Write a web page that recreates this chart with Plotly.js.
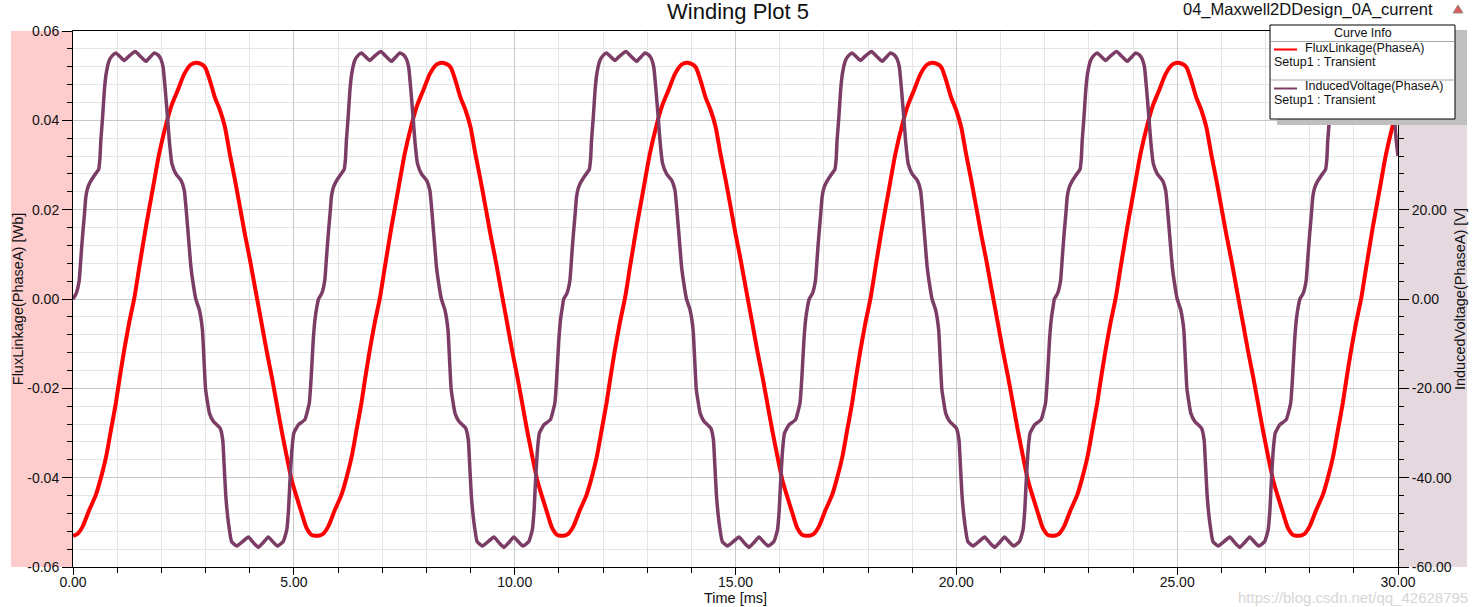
<!DOCTYPE html>
<html>
<head>
<meta charset="utf-8">
<script src="https://cdn.plot.ly/plotly-3.0.1.min.js"></script>
<style>
html,body{margin:0;padding:0;background:#ffffff;}
#chart{width:1479px;height:607px;}
</style>
</head>
<body>
<div id="chart"></div>
<script>
// ---- Data ----
const fluxTime = [
0.00,0.10,0.22,0.37,0.52,0.63,0.75,0.86,0.97,1.05,1.16,1.27,1.39,1.50,1.65,1.80,1.95,2.11,2.23,2.37,2.52,2.67,2.78,2.88,2.99,3.10,3.21,3.33,3.44,3.55,3.67,3.78,3.89,4.01,4.12,4.27,4.38,4.50,4.61,4.72,4.84,4.95,5.06,5.18,5.29,5.40,5.48,
5.56,5.66,5.78,5.93,6.08,6.19,6.31,6.42,6.53,6.61,6.72,6.83,6.95,7.06,7.21,7.36,7.51,7.67,7.79,7.93,8.08,8.23,8.34,8.44,8.55,8.66,8.77,8.89,9.00,9.11,9.23,9.34,9.45,9.57,9.68,9.83,9.94,10.06,10.17,10.28,10.40,10.51,10.62,10.74,10.85,10.96,11.04,
11.11,11.21,11.33,11.48,11.63,11.74,11.86,11.97,12.08,12.16,12.27,12.38,12.50,12.61,12.76,12.91,13.06,13.22,13.34,13.48,13.63,13.78,13.89,13.99,14.10,14.21,14.32,14.44,14.55,14.66,14.78,14.89,15.00,15.12,15.23,15.38,15.49,15.61,15.72,15.83,15.95,16.06,16.17,16.29,16.40,16.51,16.59,
16.67,16.77,16.89,17.04,17.19,17.30,17.42,17.53,17.64,17.72,17.83,17.94,18.06,18.17,18.32,18.47,18.62,18.78,18.90,19.04,19.19,19.34,19.45,19.55,19.66,19.77,19.88,20.00,20.11,20.22,20.34,20.45,20.56,20.68,20.79,20.94,21.05,21.17,21.28,21.39,21.51,21.62,21.73,21.85,21.96,22.07,22.15,
22.22,22.32,22.44,22.59,22.74,22.85,22.97,23.08,23.19,23.27,23.38,23.49,23.61,23.72,23.87,24.02,24.17,24.33,24.45,24.59,24.74,24.89,25.00,25.10,25.21,25.32,25.43,25.55,25.66,25.77,25.89,26.00,26.11,26.23,26.34,26.49,26.60,26.72,26.83,26.94,27.06,27.17,27.28,27.40,27.51,27.62,27.70,
27.78,27.88,28.00,28.15,28.30,28.41,28.53,28.64,28.75,28.83,28.94,29.05,29.17,29.28,29.43,29.58,29.73,29.89,30.00
];
const fluxValue = [
-0.0530,-0.0526,-0.0509,-0.0472,-0.0438,-0.0401,-0.0353,-0.0293,-0.0233,-0.0181,-0.0114,-0.0054,0.0003,0.0071,0.0161,0.0243,0.0325,0.0392,0.0433,0.0467,0.0504,0.0525,0.0529,0.0527,0.0519,0.0489,0.0452,0.0422,0.0385,0.0325,0.0265,0.0206,0.0146,0.0086,0.0026,-0.0054,-0.0114,-0.0174,-0.0233,-0.0293,-0.0353,-0.0405,-0.0442,-0.0480,-0.0513,-0.0528,-0.0530,
-0.0530,-0.0526,-0.0509,-0.0472,-0.0438,-0.0401,-0.0353,-0.0293,-0.0233,-0.0181,-0.0114,-0.0054,0.0003,0.0071,0.0161,0.0243,0.0325,0.0392,0.0433,0.0467,0.0504,0.0525,0.0529,0.0527,0.0519,0.0489,0.0452,0.0422,0.0385,0.0325,0.0265,0.0206,0.0146,0.0086,0.0026,-0.0054,-0.0114,-0.0174,-0.0233,-0.0293,-0.0353,-0.0405,-0.0442,-0.0480,-0.0513,-0.0528,-0.0530,
-0.0530,-0.0526,-0.0509,-0.0472,-0.0438,-0.0401,-0.0353,-0.0293,-0.0233,-0.0181,-0.0114,-0.0054,0.0003,0.0071,0.0161,0.0243,0.0325,0.0392,0.0433,0.0467,0.0504,0.0525,0.0529,0.0527,0.0519,0.0489,0.0452,0.0422,0.0385,0.0325,0.0265,0.0206,0.0146,0.0086,0.0026,-0.0054,-0.0114,-0.0174,-0.0233,-0.0293,-0.0353,-0.0405,-0.0442,-0.0480,-0.0513,-0.0528,-0.0530,
-0.0530,-0.0526,-0.0509,-0.0472,-0.0438,-0.0401,-0.0353,-0.0293,-0.0233,-0.0181,-0.0114,-0.0054,0.0003,0.0071,0.0161,0.0243,0.0325,0.0392,0.0433,0.0467,0.0504,0.0525,0.0529,0.0527,0.0519,0.0489,0.0452,0.0422,0.0385,0.0325,0.0265,0.0206,0.0146,0.0086,0.0026,-0.0054,-0.0114,-0.0174,-0.0233,-0.0293,-0.0353,-0.0405,-0.0442,-0.0480,-0.0513,-0.0528,-0.0530,
-0.0530,-0.0526,-0.0509,-0.0472,-0.0438,-0.0401,-0.0353,-0.0293,-0.0233,-0.0181,-0.0114,-0.0054,0.0003,0.0071,0.0161,0.0243,0.0325,0.0392,0.0433,0.0467,0.0504,0.0525,0.0529,0.0527,0.0519,0.0489,0.0452,0.0422,0.0385,0.0325,0.0265,0.0206,0.0146,0.0086,0.0026,-0.0054,-0.0114,-0.0174,-0.0233,-0.0293,-0.0353,-0.0405,-0.0442,-0.0480,-0.0513,-0.0528,-0.0530,
-0.0530,-0.0526,-0.0509,-0.0472,-0.0438,-0.0401,-0.0353,-0.0293,-0.0233,-0.0181,-0.0114,-0.0054,0.0003,0.0071,0.0161,0.0243,0.0325,0.0392,0.0430
];
const voltTime = [
0.00,0.07,0.14,0.18,0.22,0.26,0.29,0.33,0.38,0.48,0.58,0.61,0.63,0.67,0.71,0.75,0.82,0.90,0.97,1.06,1.16,1.28,1.41,1.53,1.65,1.75,1.84,1.93,1.99,2.04,2.09,2.14,2.18,2.24,2.33,2.45,2.52,2.57,2.62,2.67,2.72,2.78,
2.86,2.93,2.97,3.00,3.04,3.09,3.18,3.33,3.39,3.42,3.46,3.52,3.59,3.71,3.84,3.97,4.09,4.20,4.31,4.42,4.53,4.63,4.76,4.84,4.88,4.91,4.95,5.00,5.10,5.25,5.35,5.39,5.44,5.48,5.52,
5.56,5.63,5.70,5.74,5.78,5.82,5.85,5.89,5.94,6.04,6.14,6.17,6.19,6.23,6.27,6.31,6.38,6.46,6.53,6.62,6.72,6.84,6.97,7.09,7.21,7.31,7.40,7.49,7.55,7.60,7.65,7.70,7.74,7.80,7.89,8.01,8.08,8.13,8.18,8.23,8.28,8.34,
8.42,8.49,8.53,8.56,8.60,8.65,8.74,8.89,8.95,8.98,9.02,9.08,9.15,9.27,9.40,9.53,9.65,9.76,9.87,9.98,10.09,10.19,10.32,10.40,10.44,10.47,10.51,10.56,10.66,10.81,10.91,10.95,11.00,11.04,11.08,
11.11,11.18,11.25,11.29,11.33,11.37,11.40,11.44,11.49,11.59,11.69,11.72,11.74,11.78,11.82,11.86,11.93,12.01,12.08,12.17,12.27,12.39,12.52,12.64,12.76,12.86,12.95,13.04,13.10,13.15,13.20,13.25,13.29,13.35,13.44,13.56,13.63,13.68,13.73,13.78,13.83,13.89,
13.97,14.04,14.08,14.11,14.15,14.20,14.29,14.44,14.50,14.53,14.57,14.63,14.70,14.82,14.95,15.08,15.20,15.31,15.42,15.53,15.64,15.74,15.87,15.95,15.99,16.02,16.06,16.11,16.21,16.36,16.46,16.50,16.55,16.59,16.63,
16.67,16.74,16.81,16.85,16.89,16.93,16.96,17.00,17.05,17.15,17.25,17.28,17.30,17.34,17.38,17.42,17.49,17.57,17.64,17.73,17.83,17.95,18.08,18.20,18.32,18.42,18.51,18.60,18.66,18.71,18.76,18.81,18.85,18.91,19.00,19.12,19.19,19.24,19.29,19.34,19.39,19.45,
19.53,19.60,19.64,19.67,19.71,19.76,19.85,20.00,20.06,20.09,20.13,20.19,20.26,20.38,20.51,20.64,20.76,20.87,20.98,21.09,21.20,21.30,21.43,21.51,21.55,21.58,21.62,21.67,21.77,21.92,22.02,22.06,22.11,22.15,22.19,
22.22,22.29,22.36,22.40,22.44,22.48,22.51,22.55,22.60,22.70,22.80,22.83,22.85,22.89,22.93,22.97,23.04,23.12,23.19,23.28,23.38,23.50,23.63,23.75,23.87,23.97,24.06,24.15,24.21,24.26,24.31,24.36,24.40,24.46,24.55,24.67,24.74,24.79,24.84,24.89,24.94,25.00,
25.08,25.15,25.19,25.22,25.26,25.31,25.40,25.55,25.61,25.64,25.68,25.74,25.81,25.93,26.06,26.19,26.31,26.42,26.53,26.64,26.75,26.85,26.98,27.06,27.10,27.13,27.17,27.22,27.32,27.47,27.57,27.61,27.66,27.70,27.74,
27.78,27.85,27.92,27.96,28.00,28.04,28.07,28.11,28.16,28.26,28.36,28.39,28.41,28.45,28.49,28.53,28.60,28.68,28.75,28.84,28.94,29.06,29.19,29.31,29.43,29.53,29.62,29.71,29.77,29.82,29.87,29.92,29.96,30.00
];
const voltValue = [
0,1.2,4.1,9.4,14.6,19.1,22.8,24.8,26.0,27.6,29.0,31.5,35.5,40.7,46.7,50.4,53.4,54.6,55.1,54.3,53.4,54.5,55.4,54.3,53.2,54.2,55.1,54.6,53.7,51.9,46.7,40.7,35.5,30.3,28.0,26.5,24.3,19.1,13.1,7.1,3.5,0.0,
-2.4,-6.9,-14.4,-20.0,-22.8,-25.6,-27.4,-28.9,-31.5,-36.8,-44.2,-50.2,-54.3,-55.3,-54.3,-53.3,-54.6,-55.6,-54.5,-53.3,-54.4,-55.3,-54.3,-51.7,-47.2,-41.2,-34.5,-30.0,-28.2,-27.0,-23.3,-18.0,-9.1,-4.5,-1.8,
0,1.2,4.1,9.4,14.6,19.1,22.8,24.8,26.0,27.6,29.0,31.5,35.5,40.7,46.7,50.4,53.4,54.6,55.1,54.3,53.4,54.5,55.4,54.3,53.2,54.2,55.1,54.6,53.7,51.9,46.7,40.7,35.5,30.3,28.0,26.5,24.3,19.1,13.1,7.1,3.5,0.0,
-2.4,-6.9,-14.4,-20.0,-22.8,-25.6,-27.4,-28.9,-31.5,-36.8,-44.2,-50.2,-54.3,-55.3,-54.3,-53.3,-54.6,-55.6,-54.5,-53.3,-54.4,-55.3,-54.3,-51.7,-47.2,-41.2,-34.5,-30.0,-28.2,-27.0,-23.3,-18.0,-9.1,-4.5,-1.8,
0,1.2,4.1,9.4,14.6,19.1,22.8,24.8,26.0,27.6,29.0,31.5,35.5,40.7,46.7,50.4,53.4,54.6,55.1,54.3,53.4,54.5,55.4,54.3,53.2,54.2,55.1,54.6,53.7,51.9,46.7,40.7,35.5,30.3,28.0,26.5,24.3,19.1,13.1,7.1,3.5,0.0,
-2.4,-6.9,-14.4,-20.0,-22.8,-25.6,-27.4,-28.9,-31.5,-36.8,-44.2,-50.2,-54.3,-55.3,-54.3,-53.3,-54.6,-55.6,-54.5,-53.3,-54.4,-55.3,-54.3,-51.7,-47.2,-41.2,-34.5,-30.0,-28.2,-27.0,-23.3,-18.0,-9.1,-4.5,-1.8,
0,1.2,4.1,9.4,14.6,19.1,22.8,24.8,26.0,27.6,29.0,31.5,35.5,40.7,46.7,50.4,53.4,54.6,55.1,54.3,53.4,54.5,55.4,54.3,53.2,54.2,55.1,54.6,53.7,51.9,46.7,40.7,35.5,30.3,28.0,26.5,24.3,19.1,13.1,7.1,3.5,0.0,
-2.4,-6.9,-14.4,-20.0,-22.8,-25.6,-27.4,-28.9,-31.5,-36.8,-44.2,-50.2,-54.3,-55.3,-54.3,-53.3,-54.6,-55.6,-54.5,-53.3,-54.4,-55.3,-54.3,-51.7,-47.2,-41.2,-34.5,-30.0,-28.2,-27.0,-23.3,-18.0,-9.1,-4.5,-1.8,
0,1.2,4.1,9.4,14.6,19.1,22.8,24.8,26.0,27.6,29.0,31.5,35.5,40.7,46.7,50.4,53.4,54.6,55.1,54.3,53.4,54.5,55.4,54.3,53.2,54.2,55.1,54.6,53.7,51.9,46.7,40.7,35.5,30.3,28.0,26.5,24.3,19.1,13.1,7.1,3.5,0.0,
-2.4,-6.9,-14.4,-20.0,-22.8,-25.6,-27.4,-28.9,-31.5,-36.8,-44.2,-50.2,-54.3,-55.3,-54.3,-53.3,-54.6,-55.6,-54.5,-53.3,-54.4,-55.3,-54.3,-51.7,-47.2,-41.2,-34.5,-30.0,-28.2,-27.0,-23.3,-18.0,-9.1,-4.5,-1.8,
0,1.2,4.1,9.4,14.6,19.1,22.8,24.8,26.0,27.6,29.0,31.5,35.5,40.7,46.7,50.4,53.4,54.6,55.1,54.3,53.4,54.5,55.4,54.3,53.2,54.2,55.1,54.6,53.7,51.9,46.7,40.7,35.5,32.0
];

const xTickVals = [0, 5, 10, 15, 20, 25, 30];
const xTickText = ['0.00', '5.00', '10.00', '15.00', '20.00', '25.00', '30.00'];
const yTickVals = [-0.06, -0.04, -0.02, 0, 0.02, 0.04, 0.06];
const yTickText = ['-0.06', '-0.04', '-0.02', '0.00', '0.02', '0.04', '0.06'];
const y2TickVals = [-60, -40, -20, 0, 20, 40, 60];
const y2TickText = ['-60.00', '-40.00', '-20.00', '0.00', '20.00', '40.00', '60.00'];

const seriesNames = ['FluxLinkage(PhaseA)', 'InducedVoltage(PhaseA)'];
const seriesSetup = 'Setup1 : Transient';

// ---- Layout helpers (pixel -> paper) ----
const L = 73, R = 1398, T = 31, B = 567;
const px = x => (x - L) / (R - L);
const py = y => (B - y) / (B - T);
const FONT = 'Liberation Sans, Arial, sans-serif';
const RED = '#ff0000';
const PURPLE = '#7b3d66';

const traces = [
  {x: fluxTime, y: fluxValue, type: 'scatter', mode: 'lines', name: seriesNames[0],
   line: {color: RED, width: 4, shape: 'spline', smoothing: 0.6}, yaxis: 'y', hoverinfo: 'skip'},
  {x: voltTime, y: voltValue, type: 'scatter', mode: 'lines', name: seriesNames[1],
   line: {color: PURPLE, width: 3.5, shape: 'spline', smoothing: 0.4}, yaxis: 'y2', hoverinfo: 'skip'}
];

const shapes = [
  {type: 'rect', xref: 'paper', yref: 'paper', x0: px(11), x1: 0, y0: 0, y1: 1,
   fillcolor: '#fdcccc', line: {width: 0}, layer: 'below'},
  {type: 'rect', xref: 'paper', yref: 'paper', x0: 1, x1: px(1467), y0: 0, y1: 1,
   fillcolor: '#e5d9df', line: {width: 0}, layer: 'below'},
  // legend shadow + box
  {type: 'rect', xref: 'paper', yref: 'paper', x0: px(1277), x1: px(1467), y0: py(125), y1: py(30),
   fillcolor: '#bfbfbf', line: {width: 0}, layer: 'above'},
  {type: 'rect', xref: 'paper', yref: 'paper', x0: px(1270), x1: px(1455), y0: py(119), y1: py(25),
   fillcolor: '#ffffff', line: {color: '#000000', width: 1}, layer: 'above'},
  {type: 'line', xref: 'paper', yref: 'paper', x0: px(1271), x1: px(1454), y0: py(41.5), y1: py(41.5),
   line: {color: '#a8a8a8', width: 1}, layer: 'above'},
  {type: 'line', xref: 'paper', yref: 'paper', x0: px(1271), x1: px(1454), y0: py(80), y1: py(80),
   line: {color: '#a8a8a8', width: 1}, layer: 'above'},
  {type: 'line', xref: 'paper', yref: 'paper', x0: px(1274), x1: px(1297), y0: py(49.5), y1: py(49.5),
   line: {color: RED, width: 2}, layer: 'above'},
  {type: 'line', xref: 'paper', yref: 'paper', x0: px(1274), x1: px(1297), y0: py(88.5), y1: py(88.5),
   line: {color: PURPLE, width: 2}, layer: 'above'},
  // small logo mark
  {type: 'path', xref: 'paper', yref: 'paper',
   path: `M ${px(1453)},${py(13)} L ${px(1458)},${py(5)} L ${px(1463)},${py(13)} Z`,
   fillcolor: '#e05a5a', line: {color: '#909090', width: 1}, layer: 'above'}
];

const ann = (text, x, y, opts) => Object.assign({
  text, x: px(x), y: py(y), xref: 'paper', yref: 'paper', showarrow: false, borderpad: 0,
  xanchor: 'left', yanchor: 'middle', font: {family: FONT, size: 12.5, color: '#111111'}
}, opts || {});

const annotations = [
  ann('Curve Info', 1362.5, 32.5, {xanchor: 'center'}),
  ann(seriesNames[0], 1304, 47.5),
  ann(seriesSetup, 1273, 61.5),
  ann(seriesNames[1], 1304, 86.5),
  ann(seriesSetup, 1273, 100.5),
  ann('04_Maxwell2DDesign_0A_current', 1182, 10, {font: {family: FONT, size: 16.5, color: '#111111'}}),
  ann('https://blog.csdn.net/qq_42628795', 1469, 597, {xanchor: 'right', font: {family: FONT, size: 15, color: '#d6d6d6'}})
];

const layout = {
  width: 1479, height: 607,
  margin: {l: L, r: 1479 - R, t: T, b: 607 - B, pad: 0},
  paper_bgcolor: '#ffffff', plot_bgcolor: '#ffffff',
  showlegend: false,
  font: {family: FONT, size: 14, color: '#111111'},
  title: {text: 'Winding Plot 5', font: {family: FONT, size: 22, color: '#111111'},
          x: 738 / 1479, xanchor: 'center', xref: 'container',
          y: 1 - 11 / 607, yanchor: 'middle', yref: 'container'},
  xaxis: {
    range: [0, 30], tickmode: 'array', tickvals: xTickVals, ticktext: xTickText,
    ticks: 'outside', ticklen: 7, tickcolor: '#000000', tickwidth: 1, ticklabelstandoff: -5,
    showline: true, linecolor: '#000000', linewidth: 1, mirror: true,
    showgrid: true, gridcolor: '#c8c8c8', gridwidth: 1, zeroline: false,
    tickfont: {family: FONT, size: 14, color: '#111111'},
    minor: {dtick: 1, tick0: 0, ticks: 'outside', ticklen: 5, tickcolor: '#000000',
            showgrid: true, gridcolor: '#e5e5e5', gridwidth: 1},
    title: {text: 'Time [ms]', font: {family: FONT, size: 14.5, color: '#111111'}, standoff: 0}
  },
  yaxis: {
    range: [-0.06, 0.06], tickmode: 'array', tickvals: yTickVals, ticktext: yTickText,
    ticks: 'outside', ticklen: 10, tickcolor: '#000000', tickwidth: 1,
    showline: true, linecolor: '#000000', linewidth: 1, mirror: true,
    showgrid: true, gridcolor: '#c8c8c8', gridwidth: 1, zeroline: false,
    tickfont: {family: FONT, size: 14, color: '#111111'},
    minor: {dtick: 0.004, tick0: 0, ticks: 'outside', ticklen: 5, tickcolor: '#000000',
            showgrid: true, gridcolor: '#e5e5e5', gridwidth: 1},
    title: {text: 'FluxLinkage(PhaseA) [Wb]', font: {family: FONT, size: 14.5, color: '#111111'}, standoff: 0}
  },
  yaxis2: {
    overlaying: 'y', side: 'right', anchor: 'x',
    range: [-60, 60], tickmode: 'array', tickvals: y2TickVals, ticktext: y2TickText,
    ticks: 'outside', ticklen: 10, tickcolor: '#000000', tickwidth: 1,
    showline: true, linecolor: '#000000', linewidth: 1,
    showgrid: false, zeroline: false,
    tickfont: {family: FONT, size: 14, color: '#111111'},
    minor: {dtick: 4, tick0: 0, ticks: 'outside', ticklen: 5, tickcolor: '#000000', showgrid: false},
    title: {text: 'InducedVoltage(PhaseA) [V]', font: {family: FONT, size: 14.5, color: '#111111'}, standoff: 0}
  },
  shapes, annotations
};

Plotly.newPlot('chart', traces, layout, {displayModeBar: false, staticPlot: true});
</script>
</body>
</html>
